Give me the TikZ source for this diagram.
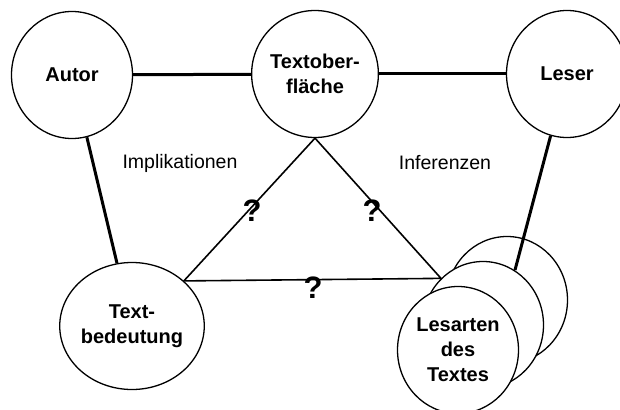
\documentclass[tikz,border=0pt]{standalone}
\usepackage{fontspec}
\setmainfont{Liberation Sans}
\usetikzlibrary{shapes.geometric}
\begin{document}
\begin{tikzpicture}[x=1pt,y=-1pt,
  disc/.style={ellipse, draw, line width=1.3pt, fill=white,
    minimum width=121pt, minimum height=127pt, inner sep=0pt,
    align=center, font=\fontsize{20}{25}\selectfont\bfseries},
  link/.style={line width=3pt},
  triline/.style={line width=1.6pt},
  lbl/.style={font=\fontsize{19.5}{24}\selectfont},
  qm/.style={font=\fontsize{31}{34}\selectfont\bfseries}]
\useasboundingbox (0,0) rectangle (620,409);

% top row
\node[disc] (autor) at (72,75) {Autor};
\node[disc] (tob) at (315,74) {Textober-\\fläche};
\node[disc] (leser) at (567,74) {Leser};

% bottom row
\node[disc] (tbed) at (132,326) {Text-\\bedeutung};
\node[disc] (les3) at (507,300) {};
\node[disc] (les2) at (483,325) {};
\node[disc] (les1) at (458,350) {Lesarten\\des\\Textes};

% connections
\draw[link] (autor) -- (tob);
\draw[link] (tob) -- (leser);
\draw[link] (autor) -- (tbed);
\coordinate (lesend) at (515,270);
\draw[link] (leser) -- (lesend);

% triangle of questions
\draw[triline, line join=round] (tob.south) -- (tbed.41) -- (les2.132) -- cycle;

\node[lbl] (impl) at (180,163) {Implikationen};
\node[lbl] (inf) at (445,163) {Inferenzen};
\node[qm] (q1) at (252,211) {?};
\node[qm] (q2) at (372,211) {?};
\node[qm] (q3) at (313,288) {?};
\end{tikzpicture}
\end{document}
